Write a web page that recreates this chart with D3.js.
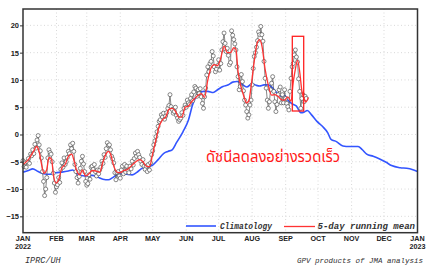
<!DOCTYPE html>
<html><head><meta charset="utf-8">
<script src="https://cdn.jsdelivr.net/npm/d3@7"></script>
<style>
html,body{margin:0;padding:0;background:#fff;overflow:hidden}
svg{display:block}
</style></head>
<body>
<svg id="c" width="431" height="267"></svg>
<script>
// ---- data ----
const yTicks = [-15, -10, -5, 0, 5, 10, 15, 20];
const monthLabels = ["JAN","FEB","MAR","APR","MAY","JUN","JUL","AUG","SEP","OCT","NOV","DEC","JAN"];
const yearLabels = ["2022","","","","","","","","","","","","2023"];
// daily index values from 1 Jan 2022
const dailyValues = [
-4.8,-5.9,-5.2,-6.0,-5.0,-4.4,-5.3,-3.6,-3.9,-2.8,
-3.5,-1.8,-2.5,-1.0,-0.2,-1.9,-3.0,-4.3,-6.8,-8.6,
-11.2,-10.0,-7.9,-4.3,-2.8,-3.3,-3.6,-5.0,-7.1,-8.9,
-10.6,-9.6,-9.2,-7.9,-8.8,-6.4,-5.2,-6.0,-4.3,-5.5,
-5.0,-4.2,-3.1,-3.5,-1.9,-2.6,-1.6,-3.1,-5.5,-6.8,
-7.9,-8.9,-7.7,-6.2,-4.9,-4.0,-5.4,-6.8,-8.6,-9.3,
-9.0,-7.4,-8.2,-6.0,-5.8,-6.4,-5.5,-6.8,-7.6,-6.5,
-7.2,-6.5,-6.0,-4.9,-5.3,-3.7,-4.2,-2.6,-1.5,-2.0,
-1.9,-2.8,-4.0,-4.5,-5.2,-7.0,-8.3,-7.0,-6.8,-7.6,
-8.0,-6.5,-5.8,-7.2,-5.5,-6.9,-5.8,-6.6,-7.0,-5.8,
-6.3,-4.9,-5.6,-4.4,-3.4,-4.0,-3.1,-3.7,-4.2,-4.9,
-5.5,-4.6,-5.8,-6.4,-5.8,-6.8,-5.5,-6.5,-5.2,-3.7,
-3.0,-1.9,-1.2,-0.4,0.5,1.5,2.4,2.7,3.6,3.2,
3.9,2.8,3.4,4.0,4.8,5.3,7.3,5.1,4.6,3.9,
4.2,5.0,3.5,3.0,2.4,2.7,3.0,4.0,3.5,4.8,
5.4,5.0,6.3,5.8,5.5,6.6,7.3,6.2,7.8,8.8,
8.5,7.0,8.2,7.5,8.4,6.9,5.7,4.8,6.9,8.5,
10.9,12.4,11.5,13.0,13.4,15.2,14.4,12.4,11.5,12.0,
12.6,13.7,11.8,13.0,15.5,17.0,18.6,16.7,15.2,15.8,
14.5,12.8,13.2,19.0,18.2,17.4,16.6,15.5,12.4,10.6,
8.2,8.8,11.0,9.7,8.0,6.3,5.4,4.2,3.0,3.6,
5.4,6.3,9.1,12.1,14.3,15.0,16.0,17.2,18.8,18.3,
19.8,18.3,17.1,13.4,10.3,8.5,6.3,4.8,6.0,8.2,
9.4,10.6,7.9,6.0,4.2,5.5,7.3,8.2,8.7,5.8,
7.3,5.8,8.2,6.6,5.7,5.1,4.5,7.9,10.3,12.4,
13.0,14.6,15.5,14.2,13.3,10.2,7.9,4.8,6.6,7.3,
6.0,7.0,6.6
];
// 5-day running mean (day of year, value)
const meanDays = [0,5,10,12.5,15,17,19.5,22,24,26.5,28,30.5,33,36,39,42,45,47.5,50,52.5,55,58,61,64,68,71,74,77,79,81,84,87,90,93,96,99,102,105,108,111,114,117,120,123,126,129,132,135,138,141,144,147,150,153,156,159,162,165,168,171,174,177,180,183,186,189,192,195,197,199,201,204,207,209,211,214,217,219,221,224,227,230,233,236,239,242,245,248,250,252,254,256,258,260,262,264];
const meanValues = [-5.5,-4.6,-3.0,-2.2,-3.2,-5.3,-7.1,-6.4,-4.2,-4.6,-7.2,-8.9,-8.3,-6.1,-5.5,-4.0,-3.6,-5.0,-6.8,-7.4,-6.5,-7.6,-7.2,-6.6,-6.7,-6.9,-5.0,-3.5,-3.1,-3.6,-5.8,-6.9,-7.0,-6.6,-6.5,-6.0,-5.4,-4.9,-4.6,-5.0,-5.8,-5.9,-3.5,-1.0,1.5,2.7,3.2,4.6,4.8,4.3,3.2,3.2,5.0,5.2,6.0,6.6,7.2,7.5,6.8,10.0,12.2,12.8,12.6,14.0,16.2,15.0,15.0,15.9,15.6,11.5,9.3,7.2,5.8,6.2,8.8,13.5,17.0,17.4,16.3,12.0,9.0,7.2,7.3,7.0,6.4,6.3,6.9,6.1,9.5,12.0,13.6,11.5,8.0,6.5,6.0,6.8];
// climatology (day of year, value)
const climDays = [0,5,9,14,19,25,30,36,42,46,51,57,64,69,74,79,83,87,92,96,101,105,111,116,120,125,130,134,138,142,148,153,157,162,167,171,176,180,185,190,194,198,202,207,212,216,219,223,227,231,235,239,242,245,249,253,257,260,263,267,272,277,282,285,290,296,302,310,314,318,324,330,336,341,349,355,360,365];
const climValues = [-6.9,-6.6,-6.3,-6.8,-7.2,-7.3,-7.0,-6.9,-6.7,-6.5,-7.3,-7.6,-7.5,-7.8,-8.2,-8.3,-7.9,-7.4,-7.2,-7.3,-7.4,-7.0,-6.1,-5.9,-5.6,-4.6,-3.5,-3.1,-2.8,-1.5,0.5,2.6,5.5,7.4,7.9,7.9,7.7,8.2,8.8,9.1,9.6,9.7,9.3,8.7,9.3,9.0,8.9,9.1,9.1,8.5,7.6,7.0,7.2,6.3,5.6,5.2,4.0,4.1,4.4,3.6,2.4,1.5,0.3,-0.9,-1.3,-2.1,-2.2,-2.2,-2.8,-3.6,-4.0,-4.5,-5.1,-5.7,-6.1,-6.2,-6.4,-6.8];

// ---- chart ----
const svg = d3.select("#c");
const L = 23, R = 417.5, T = 9, B = 232.7;
const day = d => new Date(Date.UTC(2022, 0, 1) + d * 86400000);
const x = d3.scaleUtc().domain([day(0), day(365)]).range([L, R]);
const y = d3.scaleLinear().domain([-18, 23]).range([B, T]);

const months = d3.utcMonth.range(day(0), day(366));

// grid
const grid = svg.append("g").attr("stroke", "#cfcfcf").attr("stroke-width", 0.8).attr("stroke-dasharray", "1,2.5");
grid.selectAll("line.v").data(months.slice(1, 12)).join("line")
  .attr("x1", d => x(d)).attr("x2", d => x(d)).attr("y1", T).attr("y2", B);
grid.selectAll("line.h").data(yTicks).join("line")
  .attr("x1", L).attr("x2", R).attr("y1", d => y(d)).attr("y2", d => y(d));

// climatology
const climData = climDays.map((d, i) => [d, climValues[i]]);
svg.append("path").datum(climData)
  .attr("fill", "none").attr("stroke", "#3355ff").attr("stroke-width", 1.6)
  .attr("d", d3.line().x(d => x(day(d[0]))).y(d => y(d[1])).curve(d3.curveMonotoneX));

// daily values
const daily = dailyValues.map((v, i) => [i, v]);
svg.append("path").datum(daily)
  .attr("fill", "none").attr("stroke", "#555").attr("stroke-width", 0.7)
  .attr("d", d3.line().x(d => x(day(d[0]))).y(d => y(d[1])));
svg.append("g").selectAll("circle").data(daily).join("circle")
  .attr("cx", d => x(day(d[0]))).attr("cy", d => y(d[1])).attr("r", 2)
  .attr("fill", "#fff").attr("stroke", "#555").attr("stroke-width", 0.7);

// 5-day mean
const meanData = meanDays.map((d, i) => [d, meanValues[i]]);
svg.append("path").datum(meanData)
  .attr("fill", "none").attr("stroke", "#ff3333").attr("stroke-width", 1.3)
  .attr("d", d3.line().x(d => x(day(d[0]))).y(d => y(d[1])).curve(d3.curveMonotoneX));

// frame
svg.append("rect").attr("x", L).attr("y", T).attr("width", R - L).attr("height", B - T)
  .attr("fill", "none").attr("stroke", "#333").attr("stroke-width", 1.5);

// y axis
const ya = svg.append("g").attr("transform", `translate(${L},0)`)
  .call(d3.axisLeft(y).tickValues(yTicks).tickSize(3).tickPadding(1));
ya.select(".domain").remove();
ya.selectAll("line").attr("stroke", "#333");
ya.selectAll("text").attr("font-family", "Liberation Sans, Arial, sans-serif")
  .attr("font-weight", "bold").attr("font-size", 7.5).attr("fill", "#222");

// x axis
const xa = svg.append("g").attr("transform", `translate(0,${B})`)
  .call(d3.axisBottom(x).tickValues(months).tickSize(0).tickFormat(""));
xa.select(".domain").remove();
const xl = svg.append("g").attr("font-family", "Liberation Sans Narrow, Arial Narrow, Liberation Sans, sans-serif")
  .attr("font-weight", "bold").attr("font-size", 7.2).attr("fill", "#222").attr("text-anchor", "middle");
xl.selectAll("text.m").data(months).join("text")
  .attr("x", d => x(d)).attr("y", 241).text((d, i) => monthLabels[i]);
xl.selectAll("text.yr").data(months).join("text")
  .attr("x", d => x(d)).attr("y", 248.5).text((d, i) => yearLabels[i]);

// legend
const lg = svg.append("g");
lg.append("line").attr("x1", 186).attr("x2", 216).attr("y1", 226).attr("y2", 226).attr("stroke", "#3355ff").attr("stroke-width", 1.6);
lg.append("text").attr("x", 220).attr("y", 228.5).attr("textLength", 52).attr("lengthAdjust", "spacingAndGlyphs")
  .attr("font-family", "Liberation Mono, DejaVu Sans Mono, monospace").attr("font-style", "italic").attr("font-weight", "bold")
  .attr("font-size", 8.5).attr("fill", "#333").text("Climatology");
lg.append("line").attr("x1", 284).attr("x2", 315).attr("y1", 226.5).attr("y2", 226.5).attr("stroke", "#ff3333").attr("stroke-width", 1.3);
lg.append("text").attr("x", 317.5).attr("y", 229).attr("textLength", 97.5).attr("lengthAdjust", "spacingAndGlyphs")
  .attr("font-family", "Liberation Mono, DejaVu Sans Mono, monospace").attr("font-style", "italic").attr("font-weight", "bold")
  .attr("font-size", 8.5).attr("fill", "#333").text("5-day running mean");

// annotation
svg.append("text").attr("x", 206).attr("y", 161.5).attr("textLength", 134).attr("lengthAdjust", "spacingAndGlyphs")
  .attr("font-family", "Noto Sans Thai, Tahoma, Noto Sans, sans-serif").attr("font-size", 15.5).attr("fill", "#ff1a1a")
  .text("ดัชนีลดลงอย่างรวดเร็ว");
svg.append("rect").attr("x", 292.3).attr("y", 36.3).attr("width", 11.4).attr("height", 74.7)
  .attr("fill", "none").attr("stroke", "#ff2020").attr("stroke-width", 1.3);

// footer
svg.append("text").attr("x", 25).attr("y", 262.5).attr("font-family", "Liberation Mono, DejaVu Sans Mono, monospace")
  .attr("font-style", "italic").attr("font-size", 8.5).attr("fill", "#333").text("IPRC/UH");
svg.append("text").attr("x", 297).attr("y", 262.5)
  .attr("font-family", "Liberation Mono, DejaVu Sans Mono, monospace")
  .attr("font-style", "italic").attr("font-size", 7.5).attr("fill", "#333").text("GPV products of JMA analysis");
</script>
</body></html>
